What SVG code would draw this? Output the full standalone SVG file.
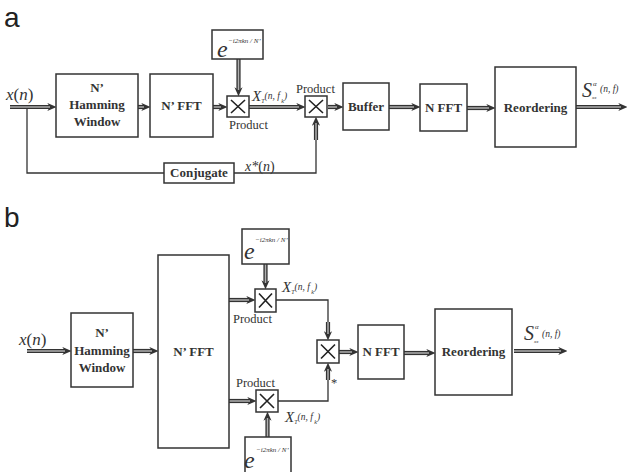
<svg xmlns="http://www.w3.org/2000/svg" width="628" height="472" viewBox="0 0 628 472">
<defs>
<style>
.box{fill:#fff;stroke:#333;stroke-width:1.5}
.o{fill:none;stroke:#333;stroke-width:4.2}
.i{fill:none;stroke:#b0b0b0;stroke-width:1.5}
.th{fill:none;stroke:#333;stroke-width:1.3}
.x{stroke:#222;stroke-width:1.6}
.bl{font-family:"Liberation Serif",serif;font-weight:bold;font-size:13px;fill:#333;text-anchor:middle}
.rg{font-family:"Liberation Serif",serif;font-size:12.5px;fill:#333}
.it{font-family:"Liberation Serif",serif;font-style:italic;fill:#333}
.sup{font-family:"Liberation Serif",serif;font-style:italic;font-size:7px;fill:#333}
.pl{font-family:"Liberation Sans",sans-serif;font-size:28px;fill:#222}
</style>
<marker id="ah" viewBox="0 0 10 10" refX="3" refY="5" markerWidth="9" markerHeight="9" markerUnits="userSpaceOnUse" orient="auto">
<path d="M0,0.5 L10,5 L0,9.5 L3,5 Z" fill="#333"/>
</marker>
</defs>
<rect width="628" height="472" fill="#fff"/>

<text class="pl" x="4" y="27">a</text>
<text class="pl" x="4" y="227">b</text>

<!-- connectors -->
<g id="connectors">
<path class="th" d="M27,107 V173 H164 M234,173 H316 V140"/>
<path class="th" d="M276,300 H328 V322 M278,401 H328 V380"/>
<g class="o" marker-end="url(#ah)">
<path d="M10,107 H50"/>
<path d="M138,107 H144"/>
<path d="M213,107 H221"/>
<path d="M238.5,59 V90"/>
<path d="M249,107 H299"/>
<path d="M316,140 V123"/>
<path d="M328,107 H337"/>
<path d="M389,107 H414"/>
<path d="M467,108 H489"/>
<path d="M576,107 H621"/>
<path d="M27,351 H65"/>
<path d="M133,351 H152"/>
<path d="M229,300 H249"/>
<path d="M229,401 H250"/>
<path d="M265.5,264 V283"/>
<path d="M267.5,437 V418"/>
<path d="M328,322 V334"/>
<path d="M328,380 V369"/>
<path d="M339,352 H352"/>
<path d="M404,353 H429"/>
<path d="M514,351 H561"/>
</g>
<g class="i">
<path d="M10,107 H50"/>
<path d="M138,107 H144"/>
<path d="M213,107 H221"/>
<path d="M238.5,59 V90"/>
<path d="M249,107 H299"/>
<path d="M316,140 V123"/>
<path d="M328,107 H337"/>
<path d="M389,107 H414"/>
<path d="M467,108 H489"/>
<path d="M576,107 H621"/>
<path d="M27,351 H65"/>
<path d="M133,351 H152"/>
<path d="M229,300 H249"/>
<path d="M229,401 H250"/>
<path d="M265.5,264 V283"/>
<path d="M267.5,437 V418"/>
<path d="M328,322 V334"/>
<path d="M328,380 V369"/>
<path d="M339,352 H352"/>
<path d="M404,353 H429"/>
<path d="M514,351 H561"/>
</g>
</g>

<!-- panel a nodes -->
<g id="a-input"><text class="it" x="6" y="100" font-size="17">x<tspan font-style="normal">(</tspan>n<tspan font-style="normal">)</tspan></text></g>
<g id="a-hamming"><rect class="box" x="56" y="74" width="82" height="63"/>
<text class="bl" x="97" y="92">N’</text><text class="bl" x="97" y="109">Hamming</text><text class="bl" x="97" y="126">Window</text></g>
<g id="a-fft"><rect class="box" x="150" y="74" width="63" height="63"/><text class="bl" x="181.5" y="110">N’ FFT</text></g>
<g id="a-exp"><rect class="box" x="212" y="30" width="51" height="29"/>
<text class="it" x="217" y="57" font-size="24">e</text><text class="sup" x="228" y="43">−i2πkn / N’</text></g>
<g id="a-prod1"><rect class="box" x="227" y="96" width="22" height="21"/>
<path class="x" d="M231,100 L245,113 M245,100 L231,113"/>
<text class="rg" x="229" y="129">Product</text></g>
<g id="a-xt"><text class="it" x="252" y="101" font-size="15">X<tspan font-size="6" dy="2">T</tspan><tspan font-size="9.5" dy="-4">(n, f</tspan><tspan font-size="6" dy="4"> k</tspan><tspan font-size="9.5" dy="-4">)</tspan></text></g>
<g id="a-prod2"><rect class="box" x="305" y="96" width="22" height="21"/>
<path class="x" d="M309,100 L323,113 M323,100 L309,113"/>
<text class="rg" x="296" y="93">Product</text></g>
<g id="a-conj"><rect class="box" x="164" y="163" width="70" height="20"/><text class="bl" x="199" y="177">Conjugate</text></g>
<g id="a-xstar"><text class="it" x="245" y="171" font-size="14">x*<tspan font-style="normal">(</tspan>n<tspan font-style="normal">)</tspan></text></g>
<g id="a-buffer"><rect class="box" x="343" y="83" width="46" height="47"/><text class="bl" x="366" y="111">Buffer</text></g>
<g id="a-nfft"><rect class="box" x="420" y="84" width="47" height="47"/><text class="bl" x="443.5" y="112">N FFT</text></g>
<g id="a-reorder"><rect class="box" x="495" y="67" width="81" height="80"/><text class="bl" x="535.5" y="112">Reordering</text></g>
<g id="a-out"><text class="it" x="582" y="97" font-size="20">S</text><text class="it" x="593" y="86" font-size="7">α</text><text class="it" x="592" y="99" font-size="5">xx</text><text class="it" x="600" y="92" font-size="9.5">(n, f)</text></g>

<!-- panel b nodes -->
<g id="b-input"><text class="it" x="19" y="345" font-size="17">x<tspan font-style="normal">(</tspan>n<tspan font-style="normal">)</tspan></text></g>
<g id="b-hamming"><rect class="box" x="71" y="313" width="62" height="74"/>
<text class="bl" x="102" y="337">N’</text><text class="bl" x="102" y="355">Hamming</text><text class="bl" x="102" y="372">Window</text></g>
<g id="b-fft"><rect class="box" x="158" y="255" width="71" height="193"/><text class="bl" x="193.5" y="356">N’ FFT</text></g>
<g id="b-exp1"><rect class="box" x="242" y="229" width="47" height="35"/>
<text class="it" x="244" y="259" font-size="24">e</text><text class="sup" x="255" y="242">−i2πkn / N’</text></g>
<g id="b-prod1"><rect class="box" x="255" y="289" width="21" height="23"/>
<path class="x" d="M259,293.5 L272,307.5 M272,293.5 L259,307.5"/>
<text class="rg" x="233" y="323">Product</text></g>
<g id="b-xt1"><text class="it" x="282" y="292" font-size="15">X<tspan font-size="6" dy="2">T</tspan><tspan font-size="9.5" dy="-4">(n, f</tspan><tspan font-size="6" dy="4"> k</tspan><tspan font-size="9.5" dy="-4">)</tspan></text></g>
<g id="b-prod2"><rect class="box" x="256" y="390" width="22" height="22"/>
<path class="x" d="M260,394 L274,408 M274,394 L260,408"/>
<text class="rg" x="236" y="387">Product</text></g>
<g id="b-xt2"><text class="it" x="285" y="422" font-size="15">X<tspan font-size="6" dy="2">T</tspan><tspan font-size="9.5" dy="-4">(n, f</tspan><tspan font-size="6" dy="4"> k</tspan><tspan font-size="9.5" dy="-4">)</tspan></text></g>
<g id="b-exp2"><rect class="box" x="245" y="437" width="46" height="40"/>
<text class="it" x="244" y="468" font-size="24">e</text><text class="sup" x="256" y="452">−i2πkn / N’</text></g>
<g id="b-prod3"><rect class="box" x="317" y="340" width="22" height="23"/>
<path class="x" d="M321,344.5 L335,358.5 M335,344.5 L321,358.5"/>
<text class="rg" x="331" y="387" font-size="11">*</text></g>
<g id="b-nfft"><rect class="box" x="358" y="325" width="46" height="54"/><text class="bl" x="381" y="356">N FFT</text></g>
<g id="b-reorder"><rect class="box" x="435" y="309" width="77" height="86"/><text class="bl" x="473.5" y="356">Reordering</text></g>
<g id="b-out"><text class="it" x="524" y="340" font-size="20">S</text><text class="it" x="535" y="329" font-size="7">α</text><text class="it" x="534" y="343" font-size="5">xx</text><text class="it" x="542" y="337" font-size="9.5">(n, f)</text></g>
</svg>
